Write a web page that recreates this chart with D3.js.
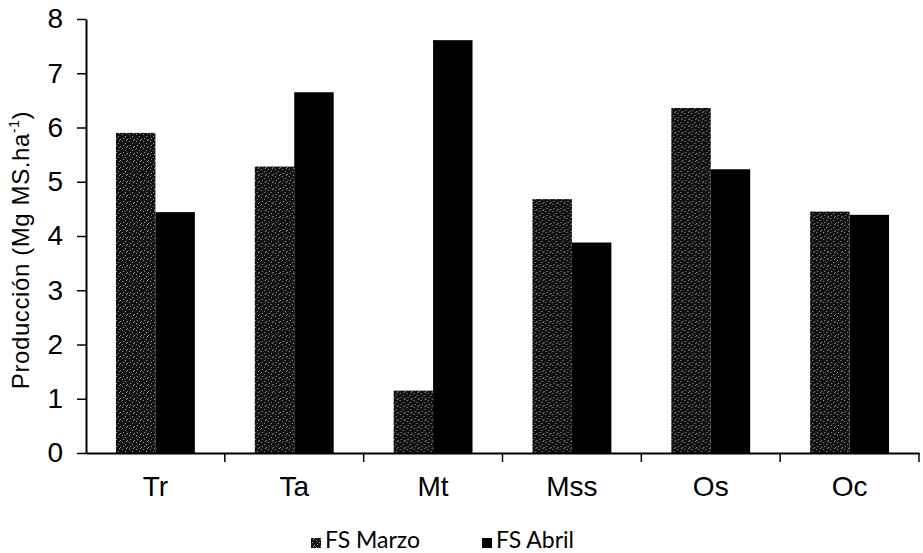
<!DOCTYPE html>
<html>
<head>
<meta charset="utf-8">
<script src="https://cdn.jsdelivr.net/npm/d3@7"></script>
<style>
  html, body { margin: 0; padding: 0; background: #fff; }
  svg { display: block; }
</style>
</head>
<body>
<div id="chart"></div>
<script>
const categories = ["Tr", "Ta", "Mt", "Mss", "Os", "Oc"];
const seriesNames = ["FS Marzo", "FS Abril"];
const marzo = [5.9, 5.28, 1.15, 4.68, 6.36, 4.45];
const abril = [4.44, 6.65, 7.61, 3.88, 5.23, 4.39];
const yTicks = [0, 1, 2, 3, 4, 5, 6, 7, 8];
const yTitle = "Producción (Mg MS.ha";

const W = 923, H = 553;

const svg = d3.select("#chart").append("svg").attr("width", W).attr("height", H);

// stipple pattern for FS Marzo
const defs = svg.append("defs");
const pat = defs.append("pattern").attr("id", "stipple")
  .attr("patternUnits", "userSpaceOnUse").attr("width", 7).attr("height", 7);
pat.append("rect").attr("width", 7).attr("height", 7).attr("fill", "#111");
[[1,1],[4,3],[2,5],[6,6],[5,0]].forEach(([x,y]) =>
  pat.append("rect").attr("x", x).attr("y", y).attr("width", 1).attr("height", 1).attr("fill", "#9a9a9a"));

const x0 = d3.scaleBand().domain(categories).range([86, 919]).paddingInner(0).paddingOuter(0);
const x1 = d3.scaleBand().domain(seriesNames).range([0, x0.bandwidth()]).paddingInner(0).paddingOuter(0.76);
const y = d3.scaleLinear().domain([0, 8]).range([453, 19]);

const data = categories.map((c, i) => ({ cat: c, values: [marzo[i], abril[i]] }));
const fills = ["url(#stipple)", "#000"];

const g = svg.append("g");
g.selectAll("g.cat").data(data).join("g").attr("class", "cat")
  .attr("transform", d => `translate(${x0(d.cat)},0)`)
  .selectAll("rect").data(d => d.values.map((v, j) => ({ s: seriesNames[j], v, j })))
  .join("rect")
  .attr("x", d => x1(d.s))
  .attr("width", x1.bandwidth())
  .attr("y", d => y(d.v))
  .attr("height", d => y(0) - y(d.v))
  .attr("fill", d => fills[d.j]);

// y axis
const yAxis = svg.append("g").attr("transform", "translate(86,0)")
  .call(d3.axisLeft(y).tickValues(yTicks).tickSize(9).tickPadding(14).tickSizeOuter(0));
yAxis.select(".domain").attr("stroke", "#000").attr("stroke-width", 2);
yAxis.selectAll(".tick line").attr("stroke", "#000").attr("stroke-width", 1.5);
yAxis.selectAll(".tick text").attr("font-family", "'Liberation Sans', Arial, sans-serif")
  .attr("font-size", 28).attr("fill", "#000");

// x axis
const xAxis = svg.append("g").attr("transform", "translate(0,453)")
  .call(d3.axisBottom(x0).tickSize(0).tickPadding(23));
xAxis.select(".domain").attr("stroke", "#000").attr("stroke-width", 2);
xAxis.selectAll(".tick text").attr("font-family", "'Liberation Sans', Arial, sans-serif")
  .attr("font-size", 28).attr("fill", "#000");
// category boundary ticks
const bounds = categories.map(c => x0(c)).slice(1).concat([x0.range()[1]]);
xAxis.selectAll("line.bound").data(bounds).join("line").attr("class", "bound")
  .attr("x1", d => d).attr("x2", d => d).attr("y1", 0).attr("y2", 9)
  .attr("stroke", "#000").attr("stroke-width", 1.5);

// y title
const t = svg.append("text")
  .attr("transform", "translate(29,250) rotate(-90)")
  .attr("text-anchor", "middle")
  .attr("font-family", "'Liberation Sans', Arial, sans-serif")
  .attr("font-size", 24).attr("letter-spacing", 0.6).attr("fill", "#000");
t.append("tspan").text(yTitle);
t.append("tspan").attr("font-size", 14).attr("dy", -10).text("-1");
t.append("tspan").attr("dy", 10).text(")");

// legend
const legend = svg.append("g").attr("font-family", "Lato, 'Open Sans', sans-serif").attr("font-size", 23);
const legX = [311, 482];
seriesNames.forEach((s, i) => {
  legend.append("rect").attr("x", legX[i]).attr("y", 538).attr("width", 10).attr("height", 10).attr("fill", fills[i]);
  legend.append("text").attr("x", legX[i] + 14).attr("y", 548).attr("fill", "#000").text(s);
});
</script>
</body>
</html>
